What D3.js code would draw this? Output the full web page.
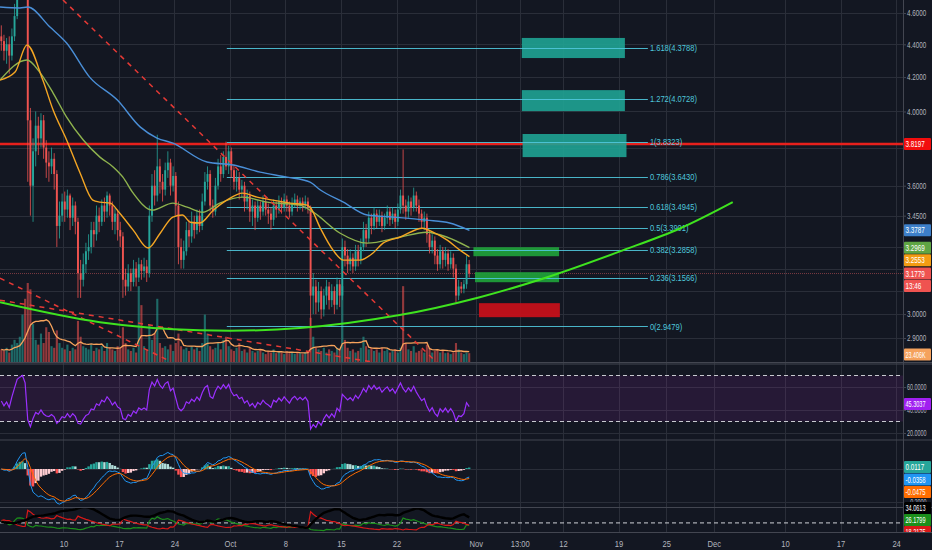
<!DOCTYPE html>
<html>
<head>
<meta charset="utf-8">
<script src="https://cdn.jsdelivr.net/npm/d3@7"></script>
<style>
  html, body { margin: 0; padding: 0; background: #131722; }
  svg { display: block; }
  text { font-family: "Liberation Sans", Arial, sans-serif; }
</style>
</head>
<body>
<svg id="chart" width="932" height="550"></svg>
<script>
// ---- data (8h candles from 2 Sep 2018) ----
const START = Date.UTC(2018, 8, 2);
const DAY = 864e5;
const BAR = DAY / 3;
const firstOpen = 4.45;

const closes = [
  4.42, 4.36, 4.40, 4.33, 4.45, 4.58, 4.75, 4.80, 4.84, 4.76,
  3.95, 3.60, 3.78, 3.92, 3.85, 3.95, 3.80, 3.72, 3.70, 3.74,
  3.66, 3.40, 3.45, 3.52, 3.48, 3.55, 3.44, 3.50, 3.42, 3.18,
  3.15, 3.22, 3.28, 3.30, 3.38, 3.36, 3.45, 3.42, 3.50, 3.47,
  3.55, 3.50, 3.42, 3.46, 3.38, 3.35, 3.15, 3.12, 3.18, 3.14,
  3.20, 3.16, 3.22, 3.19, 3.21, 3.18, 3.45, 3.60, 3.55, 3.70,
  3.62, 3.58, 3.68, 3.72, 3.60, 3.65, 3.50, 3.30, 3.24, 3.28,
  3.38, 3.35, 3.42, 3.38, 3.45, 3.40, 3.52, 3.62, 3.66, 3.50,
  3.47, 3.60, 3.70, 3.66, 3.75, 3.70, 3.78, 3.68, 3.62, 3.64,
  3.58, 3.60, 3.52, 3.55, 3.47, 3.50, 3.44, 3.50, 3.47, 3.52,
  3.48, 3.46, 3.43, 3.50, 3.48, 3.52, 3.49, 3.53, 3.50, 3.47,
  3.51, 3.53, 3.50, 3.52, 3.50, 3.52, 3.49, 3.08, 3.12, 3.05,
  3.10, 3.02, 3.08, 3.12, 3.06, 3.10, 3.04, 3.13, 3.08, 3.30,
  3.26, 3.22, 3.25, 3.21, 3.28, 3.24, 3.30, 3.38, 3.34, 3.44,
  3.40, 3.46, 3.42, 3.45, 3.40, 3.44, 3.47, 3.43, 3.46, 3.42,
  3.48, 3.55, 3.50, 3.47, 3.52, 3.49, 3.55, 3.50, 3.46, 3.42,
  3.44, 3.36, 3.30, 3.33, 3.26, 3.22, 3.28, 3.24, 3.27, 3.22,
  3.25, 3.20, 3.08, 3.12, 3.11, 3.13, 3.22, 3.1779
];
const highs = [
  4.52, 4.46, 4.44, 4.45, 4.50, 4.66, 4.82, 4.88, 4.92, 4.90,
  4.80, 4.02, 3.85, 4.00, 3.97, 3.99, 3.98, 3.84, 3.78, 3.80,
  3.77, 3.68, 3.52, 3.56, 3.57, 3.58, 3.56, 3.54, 3.52, 3.44,
  3.24, 3.27, 3.32, 3.36, 3.42, 3.42, 3.50, 3.49, 3.53, 3.54,
  3.57, 3.56, 3.52, 3.49, 3.48, 3.42, 3.37, 3.20, 3.22, 3.20,
  3.24, 3.23, 3.25, 3.24, 3.25, 3.24, 3.50, 3.66, 3.68, 3.87,
  3.74, 3.66, 3.72, 3.78, 3.74, 3.70, 3.67, 3.52, 3.34, 3.33,
  3.42, 3.43, 3.47, 3.45, 3.48, 3.48, 3.56, 3.67, 3.70, 3.68,
  3.53, 3.64, 3.74, 3.76, 3.78, 3.8323, 3.81, 3.80, 3.71, 3.68,
  3.67, 3.63, 3.62, 3.58, 3.57, 3.53, 3.52, 3.53, 3.52, 3.55,
  3.54, 3.51, 3.49, 3.53, 3.52, 3.55, 3.54, 3.56, 3.55, 3.52,
  3.54, 3.56, 3.55, 3.54, 3.54, 3.55, 3.54, 3.50, 3.18, 3.15,
  3.14, 3.12, 3.11, 3.15, 3.14, 3.13, 3.12, 3.16, 3.15, 3.34,
  3.33, 3.29, 3.29, 3.27, 3.31, 3.31, 3.34, 3.42, 3.41, 3.47,
  3.46, 3.49, 3.48, 3.48, 3.47, 3.46, 3.50, 3.49, 3.49, 3.48,
  3.51, 3.58, 3.79, 3.53, 3.55, 3.54, 3.59, 3.57, 3.53, 3.48,
  3.47, 3.46, 3.38, 3.36, 3.35, 3.29, 3.31, 3.30, 3.30, 3.29,
  3.28, 3.27, 3.22, 3.15, 3.14, 3.15, 3.26, 3.24
];
const lows = [
  4.36, 4.30, 4.28, 4.22, 4.30, 4.42, 4.56, 4.71, 4.74, 4.72,
  3.62, 3.45, 3.42, 3.70, 3.76, 3.80, 3.74, 3.64, 3.62, 3.66,
  3.58, 3.30, 3.34, 3.42, 3.42, 3.44, 3.38, 3.40, 3.36, 3.07,
  3.07, 3.12, 3.18, 3.24, 3.27, 3.30, 3.33, 3.37, 3.40, 3.42,
  3.44, 3.45, 3.38, 3.36, 3.33, 3.30, 3.07, 3.08, 3.10, 3.10,
  3.12, 3.12, 3.14, 3.15, 3.16, 3.14, 3.16, 3.42, 3.50, 3.52,
  3.56, 3.52, 3.55, 3.64, 3.55, 3.57, 3.45, 3.22, 3.20, 3.20,
  3.26, 3.30, 3.32, 3.34, 3.36, 3.37, 3.38, 3.50, 3.58, 3.47,
  3.44, 3.45, 3.58, 3.62, 3.64, 3.68, 3.66, 3.64, 3.58, 3.57,
  3.53, 3.54, 3.47, 3.48, 3.42, 3.40, 3.38, 3.42, 3.43, 3.45,
  3.45, 3.41, 3.38, 3.40, 3.44, 3.46, 3.46, 3.47, 3.47, 3.44,
  3.45, 3.49, 3.47, 3.48, 3.47, 3.48, 3.46, 2.9479, 3.00, 3.00,
  3.01, 2.98, 2.99, 3.04, 3.02, 3.03, 3.00, 3.02, 3.03, 3.06,
  3.21, 3.18, 3.19, 3.18, 3.19, 3.21, 3.22, 3.28, 3.30, 3.32,
  3.36, 3.38, 3.39, 3.40, 3.37, 3.38, 3.41, 3.40, 3.41, 3.39,
  3.40, 3.46, 3.46, 3.43, 3.44, 3.45, 3.47, 3.47, 3.42, 3.39,
  3.38, 3.32, 3.27, 3.27, 3.22, 3.19, 3.20, 3.20, 3.21, 3.19,
  3.20, 3.16, 3.05, 3.06, 3.09, 3.09, 3.11, 3.16
];
// volume, thousands
const volumes = [
  40, 35, 45, 30, 55, 70, 60, 80,
  150, 200, 250, 230, 120,
  70, 55, 90, 60, 110, 95, 50, 45,
  100, 60, 45, 40, 55, 35, 45, 40,
  130, 80, 50, 45, 40, 55, 35,
  45, 40, 50, 35, 60, 45, 40, 35, 50, 45,
  110, 60, 40, 35, 45, 30, 240, 180, 50, 40,
  120, 70, 90, 200, 60, 45, 50, 40, 55, 35,
  60, 90, 50, 40, 45, 35, 50, 40, 45, 35,
  60, 150, 90, 50, 40, 45, 60, 40, 70, 80,
  50, 40, 35, 45, 60, 35, 40, 30, 45, 35,
  30, 35, 40, 30, 25, 35, 30, 40, 28, 32,
  30, 25, 35, 28, 30, 26, 32, 28, 25, 30, 35,
  140, 80, 45, 40, 35, 45, 30, 40, 35, 30, 45, 40,
  240, 70, 45, 35, 40, 30, 35, 45, 80, 50, 40, 45,
  35, 40, 30, 45, 35, 40, 30, 35, 40, 30, 45,
  240, 60, 40, 35, 50, 30, 35, 40, 30, 55, 45,
  30, 35, 40, 30, 35, 28, 30, 25, 30, 60, 40, 30, 25, 30, 28
];

// moving averages: day offset from 2 Sep, price
const maFastDays = [0, 1.9, 3.4, 5.4, 6.7, 8.4, 10.1, 11.7, 12.6, 13.9, 15.1, 16.8, 18.7, 20.2, 21.8, 23.0, 24.0, 25.2, 26.9, 28.6, 30.6, 32.4, 34.4, 36.6, 38.7, 39.1, 40.4, 42.0, 43.3, 45.4, 47.0, 48.3, 50.4, 53.3, 54.6, 56.4, 58.0, 59.2];
const maFast = [4.182, 4.230, 4.396, 4.182, 4.008, 3.841, 3.665, 3.527, 3.517, 3.512, 3.462, 3.380, 3.295, 3.365, 3.443, 3.453, 3.418, 3.414, 3.477, 3.527, 3.562, 3.542, 3.527, 3.512, 3.502, 3.492, 3.389, 3.285, 3.239, 3.239, 3.271, 3.318, 3.346, 3.389, 3.370, 3.332, 3.285, 3.2553];
const maMidDays = [0, 3.4, 5.0, 6.7, 8.4, 10.5, 12.6, 14.3, 15.5, 16.8, 19.2, 21.8, 23.6, 25.6, 27.7, 30.6, 33.7, 37.8, 39.5, 42.9, 46.3, 50.4, 53.8, 56.4, 59.2];
const maMid = [4.182, 4.303, 4.230, 4.106, 3.968, 3.841, 3.749, 3.696, 3.644, 3.562, 3.477, 3.512, 3.492, 3.467, 3.512, 3.542, 3.517, 3.502, 3.467, 3.365, 3.318, 3.346, 3.370, 3.346, 3.2969];
const maSlowDays = [0, 2.5, 3.5, 6.3, 8.4, 11.3, 14.8, 17.7, 19.8, 21.8, 26.1, 29.4, 32.8, 36.2, 39.1, 40.4, 43.3, 46.3, 49.6, 53.8, 56.7, 59.2];
const maSlow = [4.639, 4.633, 4.639, 4.509, 4.408, 4.200, 4.065, 3.912, 3.852, 3.824, 3.723, 3.707, 3.670, 3.644, 3.618, 3.578, 3.517, 3.453, 3.443, 3.428, 3.414, 3.3787];

// drawings
const fibLevels = [1.618, 1.272, 1, 0.786, 0.618, 0.5, 0.382, 0.236, 0];
const fibPrices = [4.3788, 4.0728, 3.8323, 3.6430, 3.4945, 3.3901, 3.2858, 3.1566, 2.9479];
const fibSpan = [28.6, 81.7];
const targetBoxes = [[65.8, 78.8, 4.440, 4.315], [65.8, 78.8, 4.123, 4.002], [65.9, 79.0, 3.874, 3.749]];
const entryBoxes = [[59.7, 70.5, 3.299, 3.257], [59.9, 70.5, 3.184, 3.139]];
const stopBoxes = [[60.4, 70.6, 3.047, 2.987]];
const trendLines = [[[7.94, 4.686], [55.5, 2.788]], [[0, 3.157], [21.44, 2.806]], [[0, 3.060], [59.27, 2.739]]];
const curveDays = [0, 12.6, 25.2, 37.8, 50.4, 60.5, 69.4, 78.6, 85.8, 92.4];
const curvePrices = [3.051, 2.966, 2.932, 2.941, 2.996, 3.073, 3.166, 3.285, 3.389, 3.517];
const resistance = 3.8197;
const lastPrice = 3.1779;

// axes
const priceTicks = [4.6, 4.4, 4.2, 4.0, 3.8, 3.6, 3.45, 3.3, 3.2, 3.1, 3.0, 2.9];
const rsiTicks = [60, 40, 20];
const macdTicks = [0, -0.2];
const timeTicks = ['2018-09-10', '2018-09-17', '2018-09-24', '2018-10-01', '2018-10-08', '2018-10-15', '2018-10-22', '2018-11-01', '2018-11-06T13:00', '2018-11-12', '2018-11-19', '2018-11-25', '2018-12-01', '2018-12-10', '2018-12-17', '2018-12-24'];
const timeLabels = ['10', '17', '24', 'Oct', '8', '15', '22', 'Nov', '13:00', '12', '19', '25', 'Dec', '10', '17', '24'];

// last value tags
const priceTagText = ['3.8197', '3.3787', '3.2969', '3.2553', '3.1779', '13:46'];
const priceTagValue = [3.8197, 3.3787, 3.2969, 3.2553, 3.1779, 3.1778];
const volTag = ['23.406K', 23.406];
const rsiTag = ['45.3037', 45.3037];
const macdTagText = ['0.0117', '-0.0358', '-0.0475'];
const macdTagValue = [0.0117, -0.0358, -0.0475];
const dmiTagText = ['34.0613', '26.1799', '18.2175'];
const dmiTagValue = [34.0613, 26.1799, 18.2175];

// ---- styles ----
const PR = 903;
const C = {
  bg: '#131722', grid: '#2a2e39', sep: '#434651', axisText: '#b2b5be',
  up: '#26a69a', down: '#ef5350', fib: '#4fc7dc', red: '#e8201c',
  fast: '#f5a623', mid: '#8fb34e', slow: '#4a8fd8', curve: '#3fe31f',
  rsi: '#9b30ff', macd: '#2196f3', signal: '#ff6d00',
  adx: '#000000', pdi: '#1b8f1b', mdi: '#d81818'
};
const priceTagFill = ['#f20d0d', '#3d7fc9', '#5fa544', '#f39c12', '#ef5350', '#ef5350'];
const macdTagFill = ['#26a69a', '#2196f3', '#ff6d00'];
const dmiTagFill = ['#000000', '#1b8f1b', '#d81818'];

const day = d => new Date(START + d * DAY);

const candles = closes.map((c, i) => ({
  t: new Date(START + i * BAR + BAR / 2),
  o: i ? closes[i - 1] : firstOpen, h: highs[i], l: lows[i], c, v: volumes[i]
}));

// squeeze text horizontally (the chart uses a condensed UI font)
function squeeze(sel, f, maxW) {
  sel.each(function () {
    const w = Math.min(this.getComputedTextLength() * f, maxW || 1e9);
    d3.select(this).attr('textLength', w).attr('lengthAdjust', 'spacingAndGlyphs');
  });
}

// ---- indicators from the candles ----
function ema(vals, n) {
  const k = 2 / (n + 1);
  let e = vals[0];
  return vals.map(v => (e = e + (v - e) * k));
}
function rsiCalc(vals, n) {
  let ag = 0.03, al = 0.03, prev = firstOpen;
  return vals.map(v => {
    const ch = v - prev; prev = v;
    ag = (ag * (n - 1) + Math.max(ch, 0)) / n;
    al = (al * (n - 1) + Math.max(-ch, 0)) / n;
    return 100 - 100 / (1 + ag / al);
  });
}
function dmiCalc(n) {
  let trA = 0.12, pA = 0.03, mA = 0.03, adx = 25;
  const out = [];
  candles.forEach((d, i) => {
    if (i > 0) {
      const p = candles[i - 1];
      const up = d.h - p.h, dn = p.l - d.l;
      const pdm = up > dn && up > 0 ? up : 0;
      const mdm = dn > up && dn > 0 ? dn : 0;
      const tr = Math.max(d.h - d.l, Math.abs(d.h - p.c), Math.abs(d.l - p.c));
      trA = (trA * (n - 1) + tr) / n;
      pA = (pA * (n - 1) + pdm) / n;
      mA = (mA * (n - 1) + mdm) / n;
    }
    const pdi = 100 * pA / trA, mdi = 100 * mA / trA;
    const dx = 100 * Math.abs(pdi - mdi) / Math.max(pdi + mdi, 1e-6);
    adx = (adx * (n - 1) + dx) / n;
    out.push({ t: d.t, pdi, mdi, adx });
  });
  return out;
}
const rsiVals = rsiCalc(closes, 12);
const fastE = ema(closes, 8), slowE = ema(closes, 17);
const macdVals = fastE.map((f, i) => f - slowE[i]);
const signalVals = ema(macdVals, 6);
const histVals = macdVals.map((m, i) => m - signalVals[i]);
const dmiVals = dmiCalc(10);
const volMA = volumes.map((v, i) => d3.mean(volumes.slice(Math.max(0, i - 9), i + 1)));

// ---- scales ----
const x = d3.scaleUtc().domain([day(0), day(113.87)]).range([0, PR]);
const y = d3.scaleLog().domain([2.9, 4.6]).range([338, 13]);
const yVol = d3.scaleLinear().domain([0, 250]).range([362, 283]);
const yRsi = d3.scaleLinear().domain([20, 60]).range([433, 387]);
const yMacd = d3.scaleLinear().domain([-0.2, 0]).range([502, 469]);
const yDmi = d3.scaleLinear().domain([0, 55]).range([532, 507]);
const barW = x(new Date(START + BAR)) - x(new Date(START));

const svg = d3.select('#chart');
svg.append('rect').attr('width', 932).attr('height', 550).attr('fill', C.bg);

const defs = svg.append('defs');
function clip(id, top, bottom) {
  defs.append('clipPath').attr('id', id).append('rect')
    .attr('x', 0).attr('y', top).attr('width', PR).attr('height', bottom - top);
  return svg.append('g').attr('clip-path', `url(#${id})`);
}

// ---- grid ----
const tickDates = timeTicks.map(s => new Date(s + (s.length > 10 ? ':00Z' : 'T00:00:00Z')));
const grid = svg.append('g').attr('stroke', C.grid).attr('stroke-width', 1);
grid.selectAll('line.v').data(tickDates).join('line')
  .attr('x1', d => Math.round(x(d)) + 0.5).attr('x2', d => Math.round(x(d)) + 0.5)
  .attr('y1', 0).attr('y2', 532);
grid.selectAll('line.p').data(priceTicks).join('line')
  .attr('x1', 0).attr('x2', PR).attr('y1', d => Math.round(y(d)) + 0.5).attr('y2', d => Math.round(y(d)) + 0.5);
grid.selectAll('line.r').data(rsiTicks).join('line')
  .attr('x1', 0).attr('x2', PR).attr('y1', d => Math.round(yRsi(d)) + 0.5).attr('y2', d => Math.round(yRsi(d)) + 0.5);
grid.selectAll('line.m').data(macdTicks).join('line')
  .attr('x1', 0).attr('x2', PR).attr('y1', d => Math.round(yMacd(d)) + 0.5).attr('y2', d => Math.round(yMacd(d)) + 0.5);

// ---- main panel ----
const main = clip('clipMain', 0, 362);

main.append('g').selectAll('rect').data(candles).join('rect')
  .attr('x', d => x(d.t) - barW * 0.4).attr('width', barW * 0.8)
  .attr('y', d => yVol(d.v)).attr('height', d => yVol(0) - yVol(d.v))
  .attr('fill', d => d.c >= d.o ? C.up : C.down).attr('opacity', 0.58);
main.append('path').datum(candles)
  .attr('fill', 'none').attr('stroke', '#f7a35c').attr('stroke-width', 1.3)
  .attr('d', d3.line().x(d => x(d.t)).y((d, i) => yVol(volMA[i])));

// current price line
main.append('line').attr('x1', 0).attr('x2', PR)
  .attr('y1', y(lastPrice)).attr('y2', y(lastPrice))
  .attr('stroke', '#7a3a42').attr('stroke-width', 1).attr('stroke-dasharray', '1,1');

// resistance
main.append('line').attr('x1', 0).attr('x2', PR).attr('y1', y(resistance)).attr('y2', y(resistance))
  .attr('stroke', C.red).attr('stroke-width', 4).attr('opacity', 0.25);
main.append('line').attr('x1', 0).attr('x2', PR).attr('y1', y(resistance)).attr('y2', y(resistance))
  .attr('stroke', C.red).attr('stroke-width', 2);

// boxes
function boxes(data, fill, op) {
  main.append('g').selectAll('rect').data(data).join('rect')
    .attr('x', d => x(day(d[0]))).attr('width', d => x(day(d[1])) - x(day(d[0])))
    .attr('y', d => y(d[2])).attr('height', d => y(d[3]) - y(d[2]))
    .attr('fill', fill).attr('opacity', op);
}
boxes(targetBoxes, '#1fa393', 0.9);
boxes(entryBoxes, '#1f9d3a', 0.95);
boxes(stopBoxes, '#c4101a', 0.95);

// fibonacci
const fib = main.append('g');
fib.selectAll('line').data(fibPrices).join('line')
  .attr('x1', x(day(fibSpan[0]))).attr('x2', x(day(fibSpan[1])))
  .attr('y1', d => Math.round(y(d)) + 0.5).attr('y2', d => Math.round(y(d)) + 0.5)
  .attr('stroke', C.fib).attr('stroke-width', 1).attr('opacity', 0.9);
fib.selectAll('text').data(fibPrices).join('text')
  .attr('x', x(day(fibSpan[1])) + 2).attr('y', d => y(d)).attr('dy', '0.35em')
  .attr('fill', C.fib).attr('font-size', 9)
  .text((d, i) => `${fibLevels[i]}(${d.toFixed(4)})`)
  .call(s => squeeze(s, 0.84));

// candles
const cg = main.append('g');
cg.selectAll('line').data(candles).join('line')
  .attr('x1', d => x(d.t)).attr('x2', d => x(d.t))
  .attr('y1', d => y(d.h)).attr('y2', d => y(d.l))
  .attr('stroke', d => d.c >= d.o ? C.up : C.down).attr('stroke-width', 0.8);
cg.selectAll('rect').data(candles).join('rect')
  .attr('x', d => x(d.t) - barW * 0.36).attr('width', barW * 0.72)
  .attr('y', d => y(Math.max(d.o, d.c)))
  .attr('height', d => Math.max(0.8, y(Math.min(d.o, d.c)) - y(Math.max(d.o, d.c))))
  .attr('fill', d => d.c >= d.o ? C.up : C.down);

// moving averages
function maLine(days, vals, color) {
  main.append('path').datum(days.map((d, i) => [day(d), vals[i]]))
    .attr('fill', 'none').attr('stroke', color).attr('stroke-width', 1.4)
    .attr('d', d3.line().x(d => x(d[0])).y(d => y(d[1])).curve(d3.curveMonotoneX));
}
maLine(maSlowDays, maSlow, C.slow);
maLine(maMidDays, maMid, C.mid);
maLine(maFastDays, maFast, C.fast);

// trend lines
main.append('g').selectAll('line').data(trendLines).join('line')
  .attr('x1', d => x(day(d[0][0]))).attr('y1', d => y(d[0][1]))
  .attr('x2', d => x(day(d[1][0]))).attr('y2', d => y(d[1][1]))
  .attr('stroke', '#e53935').attr('stroke-width', 1.5).attr('stroke-dasharray', '5,5');

// green curve
main.append('path').datum(curveDays.map((d, i) => [day(d), curvePrices[i]]))
  .attr('fill', 'none').attr('stroke', C.curve).attr('stroke-width', 2)
  .attr('d', d3.line().x(d => x(d[0])).y(d => y(d[1])).curve(d3.curveCatmullRom));

// ---- RSI ----
const rsiG = clip('clipRsi', 364, 439);
rsiG.append('rect').attr('x', 0).attr('width', PR)
  .attr('y', yRsi(70)).attr('height', yRsi(30) - yRsi(70))
  .attr('fill', '#9c27b0').attr('opacity', 0.14);
rsiG.selectAll('line.b').data([70, 30]).join('line')
  .attr('x1', 0).attr('x2', PR).attr('y1', d => yRsi(d)).attr('y2', d => yRsi(d))
  .attr('stroke', '#c8cad0').attr('stroke-dasharray', '4,3').attr('stroke-width', 1);
rsiG.append('path').datum(candles)
  .attr('fill', 'none').attr('stroke', C.rsi).attr('stroke-width', 1.2)
  .attr('d', d3.line().x(d => x(d.t)).y((d, i) => yRsi(rsiVals[i])));

// ---- MACD ----
const macdG = clip('clipMacd', 441, 507);
macdG.append('g').selectAll('rect').data(candles).join('rect')
  .attr('x', d => x(d.t) - barW * 0.45).attr('width', barW * 0.9)
  .attr('y', (d, i) => Math.min(yMacd(0), yMacd(histVals[i])))
  .attr('height', (d, i) => Math.abs(yMacd(histVals[i]) - yMacd(0)))
  .attr('fill', (d, i) => {
    const h = histVals[i], p = i ? histVals[i - 1] : 0;
    return h >= 0 ? (h > p ? '#26a69a' : '#b2dfdb') : (h < p ? '#ff5252' : '#ffcdd2');
  });
macdG.append('path').datum(candles)
  .attr('fill', 'none').attr('stroke', C.macd).attr('stroke-width', 1)
  .attr('d', d3.line().x(d => x(d.t)).y((d, i) => yMacd(macdVals[i])));
macdG.append('path').datum(candles)
  .attr('fill', 'none').attr('stroke', C.signal).attr('stroke-width', 1)
  .attr('d', d3.line().x(d => x(d.t)).y((d, i) => yMacd(signalVals[i])));

// ---- DMI ----
const dmiG = clip('clipDmi', 508, 532);
dmiG.append('line').attr('x1', 0).attr('x2', PR).attr('y1', yDmi(20)).attr('y2', yDmi(20))
  .attr('stroke', '#d0d2d8').attr('stroke-dasharray', '4,3');
[['pdi', C.pdi, 1.2], ['mdi', C.mdi, 1.2], ['adx', C.adx, 2.4]].forEach(([k, col, w]) => {
  dmiG.append('path').datum(dmiVals)
    .attr('fill', 'none').attr('stroke', col).attr('stroke-width', w)
    .attr('d', d3.line().x(d => x(d.t)).y(d => yDmi(d[k])));
});

// ---- separators ----
const sep = svg.append('g').attr('stroke', C.sep);
sep.selectAll('line').data([362.5, 364, 440, 507.5, 532.5]).join('line')
  .attr('x1', 0).attr('x2', 932).attr('y1', d => d).attr('y2', d => d).attr('stroke-width', 1);
sep.append('line').attr('x1', PR + 0.5).attr('x2', PR + 0.5).attr('y1', 0).attr('y2', 533);

// ---- value tags positions ----
function stackDown(ys, h) {
  const order = ys.map((v, i) => i).sort((a, b) => ys[a] - ys[b]);
  const out = ys.slice();
  for (let k = 1; k < order.length; k++) {
    const a = order[k - 1], b = order[k];
    if (out[b] < out[a] + h) out[b] = out[a] + h;
  }
  return out;
}
const pys = stackDown(priceTagValue.map(v => y(v)), 12.5);
const mys = stackDown(macdTagValue.map(v => yMacd(v)), 12.5);
const rawD = dmiTagValue.map(v => yDmi(v));
let dys = stackDown(rawD, 12);
const shift = d3.mean(rawD) - d3.mean(dys);
dys = dys.map(v => v + shift);
const tagYs = pys.concat([yVol(volTag[1]), yRsi(rsiTag[1])], mys);

// ---- axes (tick labels hidden where a value tag sits on them) ----
function styleAxis(g, size, f, maxW) {
  g.select('.domain').remove();
  g.selectAll('line').attr('stroke', C.sep);
  g.selectAll('text').attr('fill', C.axisText).attr('font-size', size).call(s => squeeze(s, f, maxW));
}
function hideCovered(g, scale) {
  g.selectAll('.tick').filter(d => tagYs.some(t => Math.abs(t - scale(d)) < 5)).select('text').remove();
}
[[y, priceTicks], [yRsi, rsiTicks], [yMacd, macdTicks]].forEach(([sc, ticks]) => {
  svg.append('g').attr('transform', `translate(${PR},0)`)
    .call(d3.axisRight(sc).tickValues(ticks).tickFormat(d3.format('.4f')).tickSize(3).tickPadding(1))
    .call(g => styleAxis(g, 8.5, 0.74, 19.5))
    .call(g => hideCovered(g, sc));
});
svg.append('g').attr('transform', 'translate(0,538)')
  .call(d3.axisBottom(x).tickValues(tickDates).tickFormat((d, i) => timeLabels[i]).tickSize(0).tickPadding(2))
  .call(g => styleAxis(g, 9.5, 0.8));

// ---- value tags ----
function tag(parent, ty, text, fill) {
  const g = parent.append('g');
  g.append('rect').attr('x', PR + 1).attr('y', ty - 6).attr('width', 27).attr('height', 12)
    .attr('fill', fill).attr('rx', 1);
  g.append('text').attr('x', PR + 2.5).attr('y', ty).attr('dy', '0.35em')
    .attr('fill', '#ffffff').attr('font-size', 8.5).text(text)
    .call(s => squeeze(s, 0.74, 20));
}
const tagLayer = svg.append('g');
priceTagText.forEach((t, i) => tag(tagLayer, pys[i], t, priceTagFill[i]));
tag(tagLayer, yVol(volTag[1]), volTag[0], '#f5a25d');
tag(tagLayer, yRsi(rsiTag[1]), rsiTag[0], '#a020f0');
macdTagText.forEach((t, i) => tag(tagLayer, mys[i], t, macdTagFill[i]));

defs.append('clipPath').attr('id', 'clipDmiTags').append('rect')
  .attr('x', PR).attr('y', 500).attr('width', 40).attr('height', 32);
const dmiTags = svg.append('g').attr('clip-path', 'url(#clipDmiTags)');
dmiTagText.forEach((t, i) => tag(dmiTags, dys[i], t, dmiTagFill[i]));
</script>
</body>
</html>
